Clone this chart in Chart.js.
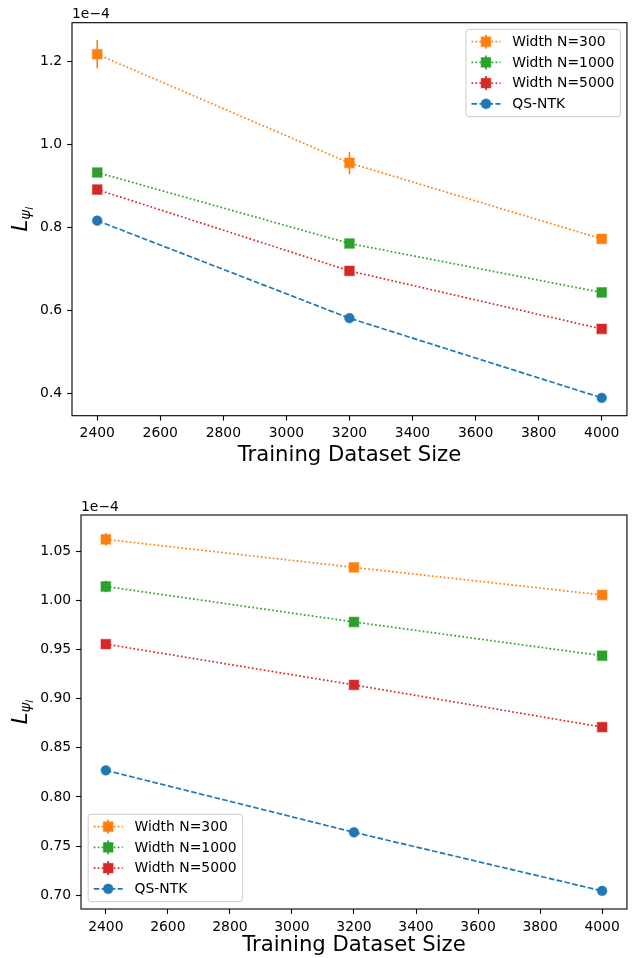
<!DOCTYPE html>
<html>
<head>
<meta charset="utf-8">
<script src="https://cdn.jsdelivr.net/npm/chart.js@4/dist/chart.umd.min.js"></script>
<style>
  html, body { margin: 0; padding: 0; background: #ffffff; }
  .panel { position: absolute; left: 0; width: 635px; height: 479px; }
  canvas { display: block; }
</style>
</head>
<body>
<div class="panel" style="top:0px"><canvas id="topChart" width="635" height="479"></canvas></div>
<div class="panel" style="top:479px"><canvas id="bottomChart" width="635" height="479"></canvas></div>
<script>
// ---------------- DATA (values in units of 1e-4) ----------------
const trainingSizes = [2400, 3200, 4000];
const seriesLabels = ['Width N=300', 'Width N=1000', 'Width N=5000', 'QS-NTK'];
const xTickValues = [2400, 2600, 2800, 3000, 3200, 3400, 3600, 3800, 4000];
const xAxisTitle = 'Training Dataset Size';
const offsetText = '1e\u22124';

// top panel
const topN300 = [1.218, 0.956, 0.773];
const topN300Err = [0.034, 0.027, 0.004];
const topN1000 = [0.933, 0.762, 0.644];
const topN1000Err = [0.003, 0.003, 0.002];
const topN5000 = [0.892, 0.696, 0.556];
const topN5000Err = [0.003, 0.002, 0.002];
const topQSNTK = [0.817, 0.582, 0.390];
const topYTickValues = [0.4, 0.6, 0.8, 1.0, 1.2];

// bottom panel
const botN300 = [1.0619, 1.0334, 1.0054];
const botN300Err = [0.0066, 0.002, 0.002];
const botN1000 = [1.0140, 0.9779, 0.9436];
const botN1000Err = [0.0058, 0.002, 0.002];
const botN5000 = [0.9554, 0.9139, 0.8710];
const botN5000Err = [0.002, 0.002, 0.002];
const botQSNTK = [0.8270, 0.7640, 0.7044];
const botYTickValues = [0.70, 0.75, 0.80, 0.85, 0.90, 0.95, 1.00, 1.05];

// ---------------- STYLE ----------------
const COLORS = ['#ff7f0e', '#2ca02c', '#d62728', '#1f77b4'];
const EDGE = ['rgba(255,127,14,0.45)', 'rgba(44,160,44,0.45)', 'rgba(214,39,40,0.45)', 'rgba(31,119,180,0.45)'];
const DOTTED = [1.7, 2.3];
const DASHED = [5.6, 2.4];
const LINE_W = 1.7;
const FONT = '"DejaVu Sans", "Liberation Sans", sans-serif';
const TICK_FS = 13.9;
const LABEL_FS = 21.2;

Chart.defaults.font.family = FONT;
Chart.defaults.color = '#000000';

function buildDatasets(series, errs) {
  return series.map((vals, k) => {
    const isQS = k === 3;
    return {
      label: seriesLabels[k],
      data: trainingSizes.map((x, i) => ({ x: x, y: vals[i] })),
      err: errs[k] || null,
      borderColor: COLORS[k],
      backgroundColor: COLORS[k],
      borderWidth: LINE_W,
      borderDash: isQS ? DASHED : DOTTED,
      borderCapStyle: 'butt',
      pointStyle: isQS ? 'circle' : 'rect',
      pointRadius: isQS ? 4.85 : 6.86,
      pointBackgroundColor: COLORS[k],
      pointBorderColor: EDGE[k],
      pointBorderWidth: 1.2,
      tension: 0,
      fill: false
    };
  });
}

// ---------------- PLUGIN: spines, error bars, legend, y label, offset text ----------------
function roundRect(ctx, x, y, w, h, r) {
  ctx.beginPath();
  ctx.moveTo(x + r, y);
  ctx.lineTo(x + w - r, y);
  ctx.quadraticCurveTo(x + w, y, x + w, y + r);
  ctx.lineTo(x + w, y + h - r);
  ctx.quadraticCurveTo(x + w, y + h, x + w - r, y + h);
  ctx.lineTo(x + r, y + h);
  ctx.quadraticCurveTo(x, y + h, x, y + h - r);
  ctx.lineTo(x, y + r);
  ctx.quadraticCurveTo(x, y, x + r, y);
  ctx.closePath();
}

function drawMarker(ctx, k, x, y) {
  ctx.save();
  ctx.setLineDash([]);
  ctx.fillStyle = COLORS[k];
  ctx.strokeStyle = EDGE[k];
  ctx.lineWidth = 1.2;
  ctx.beginPath();
  if (k === 3) {
    ctx.arc(x, y, 4.85, 0, Math.PI * 2);
  } else {
    ctx.rect(x - 4.85, y - 4.85, 9.7, 9.7);
  }
  ctx.fill();
  ctx.stroke();
  ctx.restore();
}

const decorPlugin = {
  id: 'decor',
  beforeDatasetDraw(chart, args) {
    const ds = chart.data.datasets[args.index];
    if (!ds.err) return;
    const ctx = chart.ctx;
    const ys = chart.scales.y;
    const xs = chart.scales.x;
    ctx.save();
    ctx.strokeStyle = ds.borderColor;
    ctx.lineWidth = 1.6;
    ctx.setLineDash([]);
    ds.data.forEach((p, i) => {
      const px = xs.getPixelForValue(p.x);
      ctx.beginPath();
      ctx.moveTo(px, ys.getPixelForValue(p.y + ds.err[i]));
      ctx.lineTo(px, ys.getPixelForValue(p.y - ds.err[i]));
      ctx.stroke();
    });
    ctx.restore();
  },
  afterDraw(chart, args, opts) {
    const ctx = chart.ctx;
    const ca = chart.chartArea;
    // spines
    ctx.save();
    ctx.strokeStyle = '#000000';
    ctx.lineWidth = 1.1;
    ctx.setLineDash([]);
    ctx.strokeRect(ca.left, ca.top, ca.right - ca.left, ca.bottom - ca.top);
    ctx.restore();

    // offset text
    ctx.save();
    ctx.font = TICK_FS + 'px ' + FONT;
    ctx.fillStyle = '#000000';
    ctx.textAlign = 'left';
    ctx.textBaseline = 'alphabetic';
    ctx.fillText(offsetText, ca.left, ca.top - 4.4);
    ctx.restore();

    // y-axis label  L_{psi_l}
    ctx.save();
    const cy = (ca.top + ca.bottom) / 2;
    ctx.translate(opts.yLabelX, cy);
    ctx.rotate(-Math.PI / 2);
    ctx.fillStyle = '#000000';
    ctx.textAlign = 'left';
    ctx.textBaseline = 'alphabetic';
    const f1 = LABEL_FS, f2 = f1 * 0.7, f3 = f2 * 0.7;
    ctx.font = 'italic ' + f1 + 'px ' + FONT;
    const w1 = ctx.measureText('L').width;
    ctx.font = 'italic ' + f2 + 'px ' + FONT;
    const w2 = ctx.measureText('\u03c8').width;
    ctx.font = 'italic ' + f3 + 'px ' + FONT;
    const w3 = ctx.measureText('l').width;
    let tx = -(w1 + w2 + w3) / 2;
    const base = 7.5;
    ctx.font = 'italic ' + f1 + 'px ' + FONT;
    ctx.fillText('L', tx, base);
    tx += w1;
    ctx.font = 'italic ' + f2 + 'px ' + FONT;
    ctx.fillText('\u03c8', tx, base + 3.5);
    tx += w2;
    ctx.font = 'italic ' + f3 + 'px ' + FONT;
    ctx.fillText('l', tx, base + 6.5);
    ctx.restore();

    // legend
    ctx.save();
    ctx.font = TICK_FS + 'px ' + FONT;
    const texts = chart.data.datasets.map(d => d.label);
    const tw = Math.max.apply(null, texts.map(t => ctx.measureText(t).width));
    const w = 46.3 + tw + 6;
    const h = 87.4;
    const bx = opts.legendCorner === 'tr' ? ca.right - 6.5 - w : ca.left + 7.2;
    const by = opts.legendCorner === 'tr' ? ca.top + 6.6 : ca.bottom - 7.3 - h;
    roundRect(ctx, bx, by, w, h, 3);
    ctx.fillStyle = 'rgba(255,255,255,0.8)';
    ctx.fill();
    ctx.strokeStyle = '#cccccc';
    ctx.lineWidth = 1;
    ctx.stroke();
    texts.forEach((t, k) => {
      const rowY = by + 12.4 + k * 20.7;
      const hx0 = bx + 5.5, hx1 = bx + 34.5, hmid = (hx0 + hx1) / 2;
      ctx.save();
      ctx.strokeStyle = COLORS[k];
      ctx.lineWidth = LINE_W;
      ctx.setLineDash(k === 3 ? DASHED : DOTTED);
      ctx.beginPath();
      ctx.moveTo(hx0, rowY);
      ctx.lineTo(hx1, rowY);
      ctx.stroke();
      if (k !== 3) {
        ctx.setLineDash([]);
        ctx.beginPath();
        ctx.moveTo(hmid, rowY - 7);
        ctx.lineTo(hmid, rowY + 7);
        ctx.stroke();
      }
      ctx.restore();
      drawMarker(ctx, k, hmid, rowY);
      ctx.fillStyle = '#000000';
      ctx.textAlign = 'left';
      ctx.textBaseline = 'middle';
      ctx.fillText(t, bx + 46.3, rowY + 0.5);
    });
    ctx.restore();
  }
};

function makeChart(canvasId, datasets, yMin, yMax, yTicks, decimals, geom) {
  return new Chart(document.getElementById(canvasId), {
    type: 'line',
    data: { datasets: datasets },
    plugins: [decorPlugin],
    options: {
      responsive: false,
      animation: false,
      devicePixelRatio: 1,
      layout: { padding: { top: geom.top, right: geom.right, left: 0, bottom: 0 } },
      plugins: {
        legend: { display: false },
        tooltip: { enabled: false },
        decor: { legendCorner: geom.legend, yLabelX: geom.yLabelX }
      },
      scales: {
        x: {
          type: 'linear',
          min: 2320,
          max: 4080,
          afterBuildTicks: (s) => { s.ticks = xTickValues.map(v => ({ value: v })); },
          afterFit: (s) => { s.height = geom.xHeight; },
          ticks: {
            autoSkip: false,
            maxRotation: 0,
            padding: 4.9,
            font: { size: TICK_FS },
            color: '#000000',
            callback: (v) => String(v)
          },
          grid: {
            display: true,
            drawOnChartArea: false,
            drawTicks: true,
            tickLength: 4.9,
            tickWidth: 1.1,
            tickColor: '#000000',
            color: '#000000'
          },
          border: { display: false },
          title: {
            display: true,
            text: xAxisTitle,
            font: { size: LABEL_FS },
            color: '#000000',
            padding: { top: 0, bottom: geom.titlePad }
          }
        },
        y: {
          type: 'linear',
          min: yMin,
          max: yMax,
          afterBuildTicks: (s) => { s.ticks = yTicks.map(v => ({ value: v })); },
          afterFit: (s) => { s.width = geom.yWidth; },
          ticks: {
            autoSkip: false,
            padding: 4.9,
            font: { size: TICK_FS },
            color: '#000000',
            callback: (v) => Number(v).toFixed(decimals)
          },
          grid: {
            display: true,
            drawOnChartArea: false,
            drawTicks: true,
            tickLength: 4.9,
            tickWidth: 1.1,
            tickColor: '#000000',
            color: '#000000'
          },
          border: { display: false }
        }
      }
    }
  });
}

makeChart('topChart',
  buildDatasets([topN300, topN1000, topN5000, topQSNTK], [topN300Err, topN1000Err, topN5000Err, null]),
  0.347, 1.294, topYTickValues, 1,
  { top: 22.7, right: 6, xHeight: 63.3, yWidth: 72, titlePad: 10.5, legend: 'tr', yLabelX: 19 });

makeChart('bottomChart',
  buildDatasets([botN300, botN1000, botN5000, botQSNTK], [botN300Err, botN1000Err, botN5000Err, null]),
  0.686, 1.0867, botYTickValues, 2,
  { top: 36, right: 5.7, xHeight: 49, yWidth: 81, titlePad: 0, legend: 'bl', yLabelX: 19 });
</script>
</body>
</html>
